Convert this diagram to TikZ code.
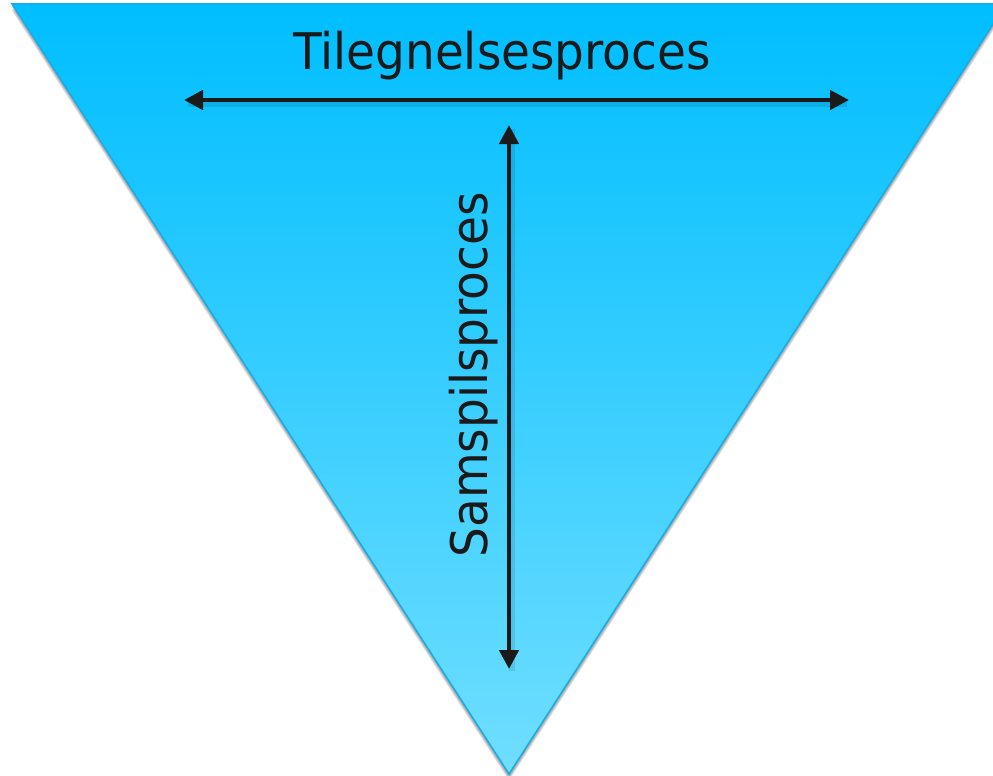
\documentclass[tikz,border=0pt]{standalone}
\usepackage{fontspec}
\setmainfont{DejaVu Sans}
\usetikzlibrary{arrows.meta}
\definecolor{topblue}{RGB}{0,190,255}
\definecolor{botblue}{RGB}{112,222,255}
\definecolor{edgeblue}{RGB}{18,174,236}
\definecolor{ink}{RGB}{26,26,26}
\tikzset{
  lbl/.style={text=ink, inner sep=0pt, font=\fontsize{50.5}{60}\selectfont},
  dbl/.style={draw=ink, line width=4.5pt, {Triangle[length=19pt,width=19pt]}-{Triangle[length=19pt,width=19pt]}},
}
\begin{document}
\begin{tikzpicture}[x=1pt,y=-1pt]
\useasboundingbox (0,0) rectangle (993,776);
\coordinate (tl) at (12,4);
\coordinate (tr) at (1006,4);
\coordinate (ap) at (509,774);
% shadow (soft, offset downward)
\foreach \s in {2,3,4,5,6,7}{
  \fill[black, opacity=0.07] ([shift={(0,\s)}]tl) -- ([shift={(0,\s)}]tr) -- ([shift={(0,\s)}]ap) -- cycle;
}
\shade[top color=topblue, bottom color=botblue] (tl) -- (tr) -- (ap) -- cycle;
\draw[edgeblue, line width=1.5pt, line join=miter] (tl) -- (tr) -- (ap) -- cycle;
% arrows
\coordinate (hl) at (184,100);
\coordinate (hr) at (849,100);
\coordinate (vt) at (509,125);
\coordinate (vb) at (509,669);
\draw[black, opacity=0.10, line width=6pt] ([shift={(4,4)}]hl) -- ([shift={(-2,4)}]hr);
\draw[black, opacity=0.10, line width=6pt] ([shift={(3,4)}]vt) -- ([shift={(3,2)}]vb);
\draw[dbl] (hl) -- (hr);
\draw[dbl] (vt) -- (vb);
% labels
\node[lbl, anchor=base] (h) at (502,70) {\scalebox{0.93}[1]{Tilegnelsesproces}};
\node[lbl, anchor=base, rotate=90] (v) at (487,375) {\scalebox{0.93}[1]{Samspilsproces}};
\end{tikzpicture}
\end{document}
